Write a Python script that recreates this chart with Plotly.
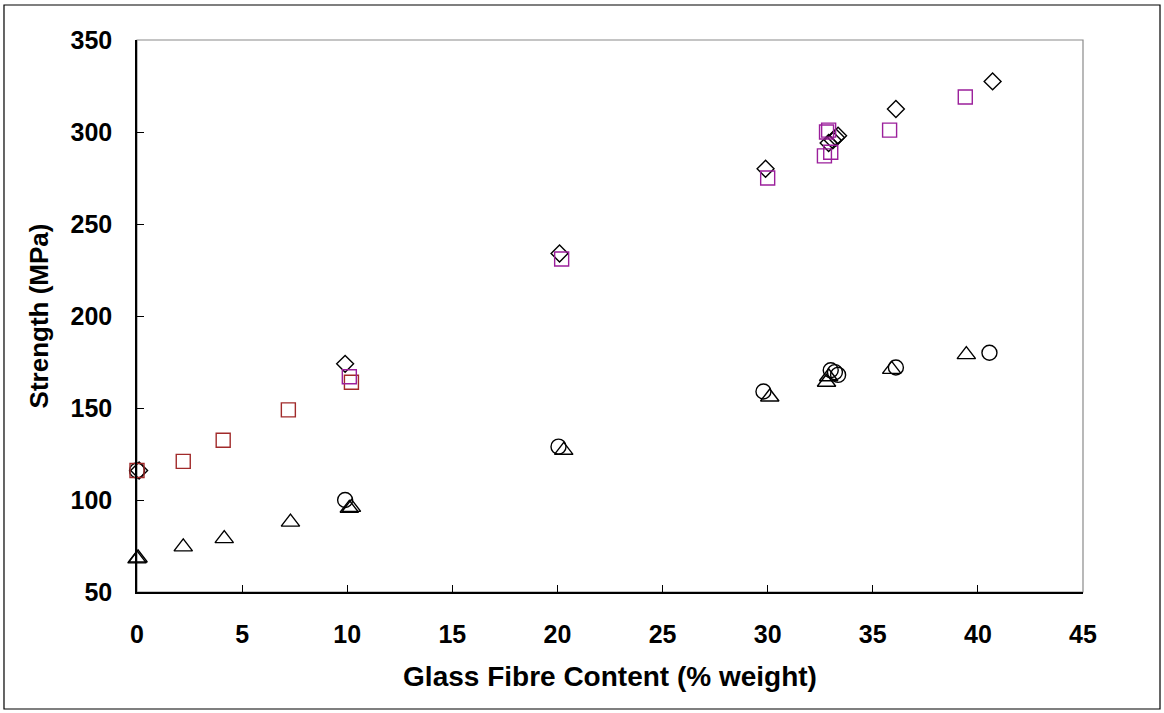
import plotly.graph_objects as go

# Strength vs glass fibre content, five measured series
diamond_x = [0.1, 9.9, 20.1, 29.9, 32.9, 33.1, 33.25, 33.35, 36.1, 40.7]
diamond_y = [116, 174, 234, 280, 294, 295.5, 297, 298, 312.5, 327.5]

purple_sq_x = [10.1, 20.2, 30.0, 32.7, 32.8, 32.9, 33.0, 35.8, 39.4]
purple_sq_y = [167, 231, 275, 287, 300, 301, 289, 301, 319]

red_sq_x = [0.0, 2.2, 4.1, 7.2, 10.2]
red_sq_y = [116, 121, 132.5, 149, 164]

circle_x = [0.0, 9.9, 20.05, 29.8, 33.0, 33.2, 33.35, 36.1, 40.55]
circle_y = [116, 100, 129, 159, 170.5, 169.5, 168, 172, 180]

triangle_x = [0.0, 0.05, 2.2, 4.15, 7.3, 10.1, 10.2, 20.3, 30.1, 32.8, 32.9, 35.9, 39.45]
triangle_y = [68, 68.5, 74.5, 79, 88, 95.5, 96, 127, 156, 164, 167, 171, 179]

x_ticks = [0, 5, 10, 15, 20, 25, 30, 35, 40, 45]
y_ticks = [50, 100, 150, 200, 250, 300, 350]

FONT = "Liberation Sans, Arial, sans-serif"
PURPLE = "#9B1F9B"
DARK_RED = "#A12A2A"

fig = go.Figure()


def add_series(xs, ys, symbol, size, color, name):
    fig.add_trace(go.Scatter(
        x=xs, y=ys, mode="markers", name=name, cliponaxis=False,
        marker=dict(symbol=symbol, size=size, color=color,
                    line=dict(color=color, width=1.4)),
    ))


add_series(circle_x, circle_y, "circle-open", 15, "black", "Circles")
add_series(triangle_x, triangle_y, "triangle-up-open", 16, "black", "Triangles")
add_series(diamond_x, diamond_y, "diamond-open", 13, "black", "Diamonds")
add_series(red_sq_x, red_sq_y, "square-open", 14, DARK_RED, "Red squares")
add_series(purple_sq_x, purple_sq_y, "square-open", 14, PURPLE, "Purple squares")

# light frame around the plotting area (top/right), axes drawn darker
fig.add_shape(type="rect", xref="paper", yref="paper", x0=0, y0=0, x1=1, y1=1,
              line=dict(color="#8a8a8a", width=1.2), layer="below")
# outer border of the whole chart
fig.add_shape(type="rect", xref="paper", yref="paper",
              x0=-0.1406, y0=-0.212, x1=1.0814, y1=1.0634,
              line=dict(color="black", width=1.2), layer="below")

fig.update_layout(
    width=1164, height=713,
    margin=dict(l=137, r=81, t=40, b=121, autoexpand=False),
    paper_bgcolor="white", plot_bgcolor="white",
    showlegend=False,
    font=dict(family=FONT, color="black"),
)

fig.update_xaxes(
    range=[0, 45], tickvals=x_ticks, ticktext=[str(v) for v in x_ticks],
    showgrid=False, zeroline=False,
    showline=True, linecolor="black", linewidth=1.5,
    ticks="inside", ticklen=7, tickcolor="black", tickwidth=1.2,
    tickfont=dict(family=FONT, size=25, color="black", weight="bold"),
    ticklabelstandoff=19,
    title=dict(text="<b>Glass Fibre Content (% weight)</b>",
               font=dict(family=FONT, size=28, color="black"), standoff=20),
    automargin=False,
)
fig.update_yaxes(
    range=[50, 350], tickvals=y_ticks, ticktext=[str(v) for v in y_ticks],
    showgrid=False, zeroline=False,
    showline=True, linecolor="black", linewidth=1.5,
    ticks="inside", ticklen=7, tickcolor="black", tickwidth=1.2,
    tickfont=dict(family=FONT, size=25, color="black", weight="bold"),
    ticklabelstandoff=18,
    title=dict(text="<b>Strength (MPa)</b>",
               font=dict(family=FONT, size=26, color="black"), standoff=14),
    automargin=False,
)

fig.write_html("out.html")
